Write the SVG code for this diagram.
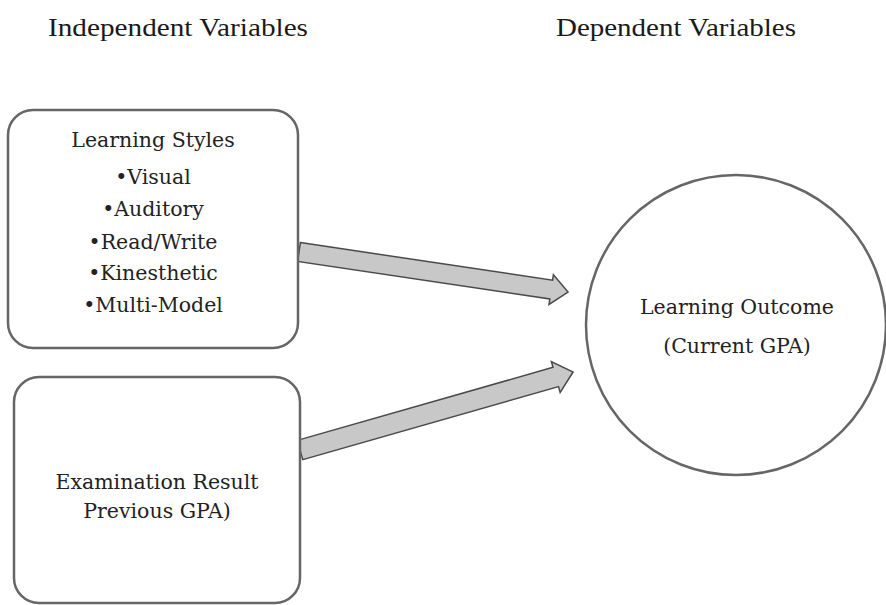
<svg xmlns="http://www.w3.org/2000/svg" width="886" height="605" viewBox="0 0 886 605">
<style>
.bg{fill:#ffffff}
.box{fill:#ffffff;stroke:#666666;stroke-width:2.5}
.arrow{fill:#c8c8c8;stroke:#4a4a4a;stroke-width:1.5;stroke-linejoin:miter}
.hdr{font-family:"Liberation Serif","Times New Roman",serif;font-size:25px;fill:#1a1a1a}
.lbl{font-family:"DejaVu Serif","Liberation Serif",serif;font-size:20.5px;fill:#222222;text-anchor:middle}
</style>
<rect class="bg" x="0" y="0" width="886" height="605"/>
<g id="headers">
<text class="hdr" x="48" y="36" textLength="260" lengthAdjust="spacingAndGlyphs">Independent Variables</text>
<text class="hdr" x="556" y="36" textLength="240" lengthAdjust="spacingAndGlyphs">Dependent Variables</text>
</g>
<g id="connectors">
<path class="arrow" transform="translate(299,252) rotate(8.46)" d="M0,-9.5 L255,-9.5 L255,-15 L272,0 L255,15 L255,9.5 L0,9.5 Z"/>
<path class="arrow" transform="translate(300,450) rotate(-15.94)" d="M0,-10 L266,-10 L266,-16 L284,0 L266,16 L266,10 L0,10 Z"/>
</g>
<g id="learning-styles">
<rect class="box" x="8" y="110" width="290" height="238" rx="25" ry="25"/>
<text class="lbl" x="153" y="147">Learning Styles</text>
<text class="lbl" x="153" y="184">•Visual</text>
<text class="lbl" x="153" y="216">•Auditory</text>
<text class="lbl" x="153" y="249">•Read/Write</text>
<text class="lbl" x="153" y="280">•Kinesthetic</text>
<text class="lbl" x="153" y="312">•Multi-Model</text>
</g>
<g id="examination-result">
<rect class="box" x="14" y="377" width="286" height="226" rx="25" ry="25"/>
<text class="lbl" x="157" y="489">Examination Result</text>
<text class="lbl" x="157" y="518">Previous GPA)</text>
</g>
<g id="learning-outcome">
<circle class="box" cx="736" cy="325" r="150"/>
<text class="lbl" x="737" y="314">Learning Outcome</text>
<text class="lbl" x="737" y="353">(Current GPA)</text>
</g>
</svg>
